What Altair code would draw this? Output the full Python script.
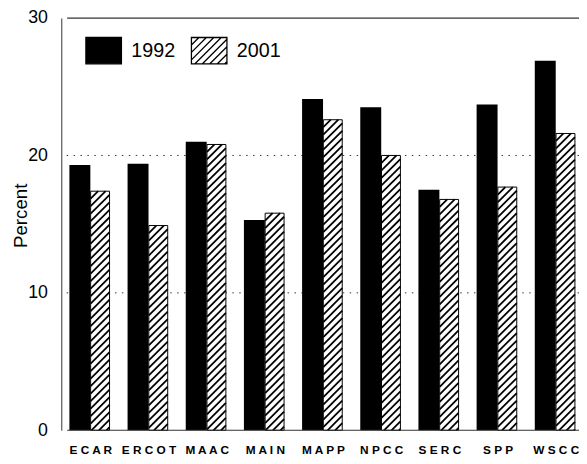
import json
import altair as alt
import pandas as pd

# ---------------- data ----------------
regions = ["ECAR", "ERCOT", "MAAC", "MAIN", "MAPP", "NPCC", "SERC", "SPP", "WSCC"]
v1992 = [19.3, 19.4, 21.0, 15.3, 24.1, 23.5, 17.5, 23.7, 26.9]
v2001 = [17.4, 14.9, 20.8, 15.8, 22.6, 20.0, 16.8, 17.7, 21.6]
years = ["1992", "2001"]
y_tick_values = [0, 10, 20, 30]
grid_values = [10, 20]

# ---------------- layout ----------------
W, H = 525, 418
X_DOMAIN = [-0.5, 8.4]
Y_DOMAIN = [0, 30]
PX_X = W / (X_DOMAIN[1] - X_DOMAIN[0])
PX_Y = H / (Y_DOMAIN[1] - Y_DOMAIN[0])
K = PX_X / PX_Y          # data-y per data-x for a 45 degree hatch line
HATCH_STEP_PX = 7.6
FONT = "Liberation Sans"

B_LO, B_HI = -0.36, 0.0     # 1992 bar offsets from group index
H_LO, H_HI = 0.005, 0.33    # 2001 bar offsets

rows = []
for i, r in enumerate(regions):
    rows.append(dict(region=r, year="1992", value=v1992[i], x0=i + B_LO, x1=i + B_HI))
    rows.append(dict(region=r, year="2001", value=v2001[i], x0=i + H_LO, x1=i + H_HI))
bars = pd.DataFrame(rows)

# hatch segments clipped to each 2001 bar
hatch = []
step = HATCH_STEP_PX / PX_X
for i, v in enumerate(v2001):
    x0, x1 = i + H_LO, i + H_HI
    xs = x0 - v / K
    while xs < x1:
        t_lo = max(0.0, x0 - xs)
        t_hi = min(v / K, x1 - xs)
        if t_hi > t_lo:
            hatch.append(dict(xa=xs + t_lo, ya=K * t_lo, xb=xs + t_hi, yb=K * t_hi))
        xs += step
hatch_df = pd.DataFrame(hatch)

# legend symbol paths
hh = 0.74
box = f"M-1,{-hh}H1V{hh}H-1Z"
segs = []
xb = -1 - 2 * hh
while xb < 1:
    t_lo = max(0.0, -1 - xb)
    t_hi = min(2 * hh, 1 - xb)
    if t_hi > t_lo:
        segs.append(f"M{xb + t_lo:.3f},{hh - t_lo:.3f}L{xb + t_hi:.3f},{hh - t_hi:.3f}")
    xb += 0.42
hatch_path = box + "".join(segs)

spaced = [" ".join(list(r)) for r in regions]
label_expr = json.dumps(spaced) + "[round(datum.value)]"

xscale = alt.Scale(domain=X_DOMAIN, nice=False, zero=False)
yscale = alt.Scale(domain=Y_DOMAIN, nice=False, zero=True)

x_axis = alt.Axis(values=list(range(len(regions))), labelExpr=label_expr,
                  grid=False, ticks=False, domain=False, title=None,
                  labelFont=FONT, labelFontSize=12, labelFontWeight="bold",
                  labelColor="black", labelPadding=15, labelFlush=False,
                  labelOverlap=False)
y_axis = alt.Axis(values=y_tick_values, ticks=False, grid=False, domain=True,
                  domainColor="#555", domainWidth=1.2,
                  labelFont=FONT, labelFontSize=18, labelColor="black",
                  labelPadding=14, title="Percent", titleFont=FONT,
                  titleFontSize=19, titleFontWeight="normal", titleColor="black",
                  titleX=-35, titleY=200, titleBaseline="alphabetic",
                  titleAlign="center", titleAngle=270)


def X(field):
    return alt.X(field, scale=xscale, axis=x_axis)


def Y(field):
    return alt.Y(field, scale=yscale, axis=y_axis)


base = alt.Chart(bars)

grid = alt.Chart(pd.DataFrame({"g": grid_values})).mark_rule(
    color="#333", strokeDash=[1.5, 5.5], strokeWidth=1
).encode(y=Y("g:Q"))

bar_1992 = base.transform_filter(alt.datum.year == "1992").mark_rect(color="black").encode(
    x=X("x0:Q"), x2="x1:Q", y=Y("value:Q"), y2=alt.datum(0),
)

bar_2001 = base.transform_filter(alt.datum.year == "2001").mark_rect(
    fill="white", stroke="black", strokeWidth=1
).encode(x=X("x0:Q"), x2="x1:Q", y=Y("value:Q"), y2=alt.datum(0))

hatch_layer = alt.Chart(hatch_df).mark_rule(color="black", strokeWidth=1.8).encode(
    x=X("xa:Q"), x2="xb:Q", y=Y("ya:Q"), y2="yb:Q",
)

frame = alt.Chart(pd.DataFrame({"f": [Y_DOMAIN[1], Y_DOMAIN[0]]})).mark_rule(
    color="#333", strokeWidth=1.2
).encode(y=Y("f:Q"), x=alt.value(6), x2=alt.value(W))

leg = alt.Legend(orient="none", legendX=24, legendY=14, direction="horizontal",
                 title=None, symbolSize=1296, symbolStrokeColor="black",
                 symbolStrokeWidth=1.3, symbolOpacity=1, labelFont=FONT,
                 labelFontSize=20, labelColor="black", labelOffset=9,
                 columnPadding=13, padding=0)
legend_layer = alt.Chart(pd.DataFrame({"year": years})).mark_point(
    filled=True, clip=True
).encode(
    x=alt.value(-200), y=alt.value(-200),
    fill=alt.Fill("year:N", scale=alt.Scale(domain=years, range=["black", "white"]), legend=leg),
    stroke=alt.Stroke("year:N", scale=alt.Scale(domain=years, range=["black", "black"]), legend=leg),
    shape=alt.Shape("year:N", scale=alt.Scale(domain=years, range=[box, hatch_path]), legend=leg),
)

chart = alt.layer(grid, bar_1992, bar_2001, hatch_layer, frame, legend_layer).properties(
    width=W, height=H,
    autosize=alt.AutoSizeParams(type="none"),
    padding={"left": 54, "top": 7, "right": 0, "bottom": 31},
).configure_view(stroke=None)

chart.save("out.html", embed_options={"renderer": "svg", "actions": False})
